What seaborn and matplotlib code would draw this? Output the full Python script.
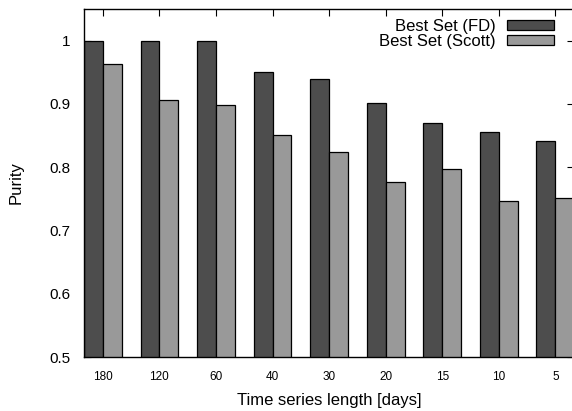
import pandas as pd
import matplotlib
matplotlib.use("Agg")
import matplotlib.pyplot as plt
import seaborn as sns

# data
lengths = ["180", "120", "60", "40", "30", "20", "15", "10", "5"]
purity_fd = [1.0, 1.0, 1.0, 0.951, 0.940, 0.902, 0.870, 0.856, 0.842]
purity_scott = [0.963, 0.906, 0.899, 0.851, 0.824, 0.776, 0.797, 0.747, 0.751]
series = ["Best Set (FD)", "Best Set (Scott)"]

df = pd.DataFrame({
    "length": lengths * 2,
    "purity": purity_fd + purity_scott,
    "set": [series[0]] * len(lengths) + [series[1]] * len(lengths),
})

sns.set_style("ticks")
plt.rcParams["font.family"] = ["Liberation Sans", "DejaVu Sans"]
plt.rcParams.update({"text.color": "black", "axes.labelcolor": "black",
                     "xtick.color": "black", "ytick.color": "black"})

fig = plt.figure(figsize=(5.72, 4.11), dpi=100)
ax = fig.add_axes([84 / 572, 54 / 411, 490 / 572, 348 / 411])

sns.barplot(data=df, x="length", y="purity", hue="set", order=lengths,
            hue_order=series, palette=["#4d4d4d", "#999999"],
            width=2 / 3, edgecolor="black", linewidth=0.9,
            saturation=1, ax=ax)

ax.set_ylim(0.5, 1.05)
ax.set_xlim(-1 / 3, 8.33)
ax.set_yticks([0.5, 0.6, 0.7, 0.8, 0.9, 1.0])
ax.set_yticklabels(["0.5", "0.6", "0.7", "0.8", "0.9", "1"])
ax.tick_params(axis="y", direction="in", left=True, right=True, length=5,
               labelsize=11, width=0.8, pad=10)
ax.tick_params(axis="x", direction="in", top=True, bottom=False, length=5,
               labelsize=8.5, pad=10, width=0.8)
for s in ax.spines.values():
    s.set_linewidth(1.0)
    s.set_color("black")

ax.set_xlabel("Time series length [days]", fontsize=12, labelpad=7)
ax.set_ylabel("Purity", fontsize=12, labelpad=18)

ax.legend(loc="upper right", bbox_to_anchor=(0.99, 1.015), frameon=False,
          markerfirst=False, fontsize=12, handlelength=2.8, handleheight=0.5,
          labelspacing=0.0, handletextpad=0.7)

fig.savefig("out.png", dpi=100)
